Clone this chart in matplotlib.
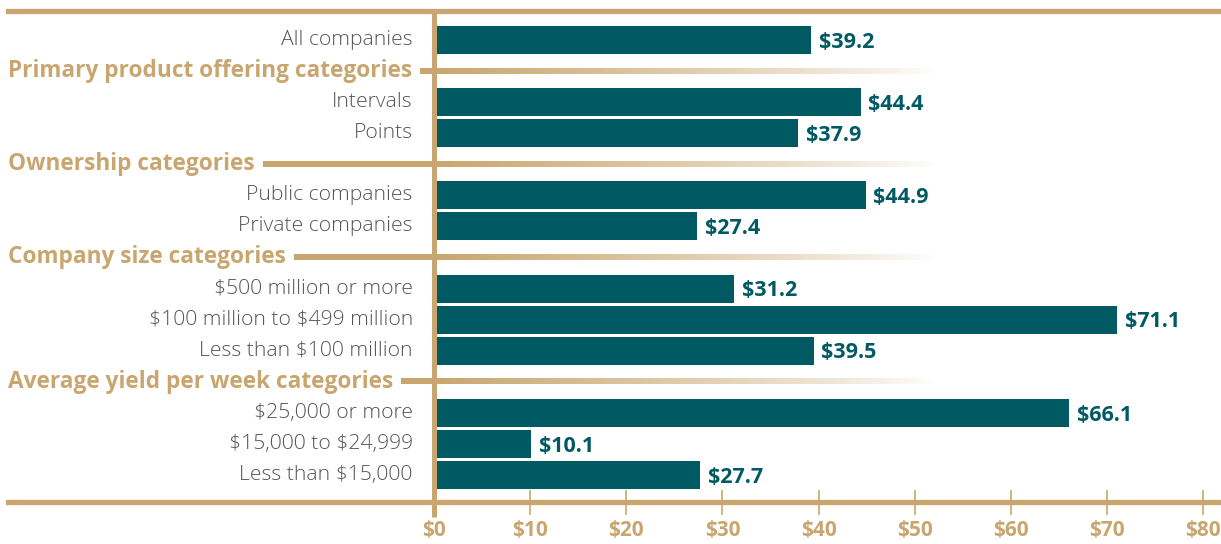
import matplotlib
matplotlib.use("Agg")
import matplotlib.pyplot as plt
import numpy as np
from matplotlib.colors import to_rgb

plt.rcParams['font.family'] = ['Open Sans', 'DejaVu Sans']
plt.rcParams['text.parse_math'] = False

# rows top to bottom; None value marks a section header
rows = [
    "All companies",
    "Primary product offering categories",
    "Intervals",
    "Points",
    "Ownership categories",
    "Public companies",
    "Private companies",
    "Company size categories",
    "$500 million or more",
    "$100 million to $499 million",
    "Less than $100 million",
    "Average yield per week categories",
    "$25,000 or more",
    "$15,000 to $24,999",
    "Less than $15,000",
]
values = [39.2, None, 44.4, 37.9, None, 44.9, 27.4, None,
          31.2, 71.1, 39.5, None, 66.1, 10.1, 27.7]
xticks = [0, 10, 20, 30, 40, 50, 60, 70, 80]

TAN = "#C9A66F"
TEAL = "#005A64"
GREY = "#555555"

W, H = 1221, 544
fig = plt.figure(figsize=(W / 100, H / 100), dpi=100)

# axes spans the ruled area, left px 8 -> right px 1218, top px 11 -> bottom px 502
ax = fig.add_axes([8 / W, (H - 502) / H, 1210 / W, 491 / H])
upx = 80 / (1203 - 434)  # data units per pixel
xlo, xhi = -(434 - 8) * upx, 80 + (1218 - 1203) * upx
ax.set_xlim(xlo, xhi)
rpx = 31.07
ylo, yhi = (502 - 40) / rpx, (11 - 40) / rpx
ax.set_ylim(ylo, yhi)

for s in ("left", "right"):
    ax.spines[s].set_visible(False)
for s in ("top", "bottom"):
    ax.spines[s].set_color(TAN)
    ax.spines[s].set_linewidth(3.8)

ax.set_yticks([])
ax.set_xticks(xticks)
ax.set_xticklabels([f"${t}" for t in xticks], color=TAN, fontsize=15, fontweight="bold")
ax.tick_params(axis="x", direction="inout", length=18, width=1.2, color=TAN, pad=4)

# vertical zero line
ax.plot([0, 0], [yhi, (517 - 40) / rpx], color=TAN, lw=3.6,
        clip_on=False, zorder=4, solid_capstyle="butt")

fig.canvas.draw()
renderer = fig.canvas.get_renderer()
inv = ax.transData.inverted()

half = 2.6 / rpx  # half line thickness in row units
fade_end = 52
for i, (label, v) in enumerate(zip(rows, values)):
    if v is None:
        t = ax.text(xlo, i, label, ha="left", va="center",
                    fontsize=16.3, fontweight="bold", color=TAN)
        bb = t.get_window_extent(renderer)
        x_start = inv.transform((bb.x1 + 8, 0))[0]
        xs = np.linspace(x_start, fade_end, 400)
        alpha = np.clip((fade_end - xs) / fade_end, 0, 1)
        alpha = np.where(xs < 0, 1.0, alpha) ** 0.8
        img = np.zeros((1, len(xs), 4))
        img[0, :, :3] = to_rgb(TAN)
        img[0, :, 3] = alpha
        ax.imshow(img, extent=(x_start, fade_end, i + half, i - half),
                  aspect="auto", interpolation="bilinear", zorder=2)
    else:
        ax.barh(i, v, height=0.9, color=TEAL, zorder=3)
        ax.text(-2.2, i, label, ha="right", va="center", fontsize=15.2,
                fontweight="light", color=GREY)
        ax.text(v + 0.8, i + 0.07, f"${v}", ha="left", va="center",
                fontsize=15.5, fontweight="bold", color=TEAL)

ax.set_xlim(xlo, xhi)
ax.set_ylim(ylo, yhi)

fig.savefig("out.png", dpi=100)
